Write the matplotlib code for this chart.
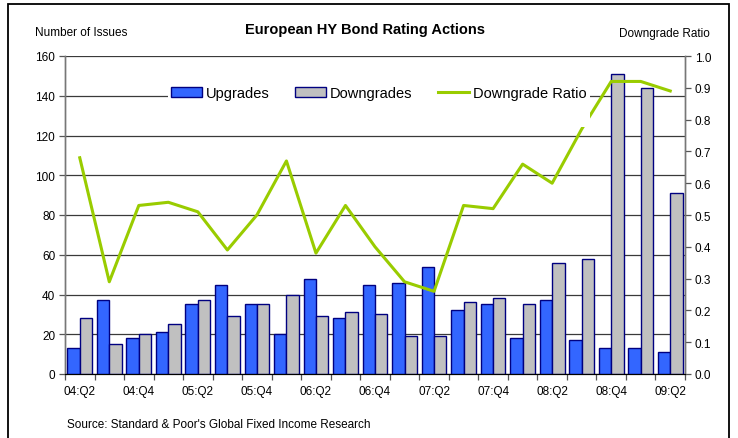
import matplotlib
matplotlib.use("Agg")
import matplotlib.pyplot as plt
import numpy as np
from matplotlib.patches import Rectangle

plt.rcParams['font.family'] = ['Liberation Sans', 'DejaVu Sans']

quarters = ["04:Q2", "04:Q3", "04:Q4", "05:Q1", "05:Q2", "05:Q3", "05:Q4",
            "06:Q1", "06:Q2", "06:Q3", "06:Q4", "07:Q1", "07:Q2", "07:Q3",
            "07:Q4", "08:Q1", "08:Q2", "08:Q3", "08:Q4", "09:Q1", "09:Q2"]
upgrades = [13, 37, 18, 21, 35, 45, 35, 20, 48, 28, 45, 46, 54, 32, 35, 18, 37, 17, 13, 13, 11]
downgrades = [28, 15, 20, 25, 37, 29, 35, 40, 29, 31, 30, 19, 19, 36, 38, 35, 56, 58, 151, 144, 91]
downgrade_ratio = [0.68, 0.29, 0.53, 0.54, 0.51, 0.39, 0.50, 0.67, 0.38, 0.53, 0.40,
                   0.29, 0.26, 0.53, 0.52, 0.66, 0.60, 0.77, 0.92, 0.92, 0.89]

fig = plt.figure(figsize=(7.38, 4.39), dpi=100)
ax = fig.add_axes([65/738, 1-375/439, 620/738, 318/439])
ax2 = ax.twinx()

x = np.arange(len(quarters))
w = 0.42
ax.bar(x - w/2, upgrades, width=w, color='#3366FF', edgecolor='#000080',
       linewidth=1.0, label='Upgrades', zorder=3)
ax.bar(x + w/2, downgrades, width=w, color='#C0C0C0', edgecolor='#000080',
       linewidth=1.0, label='Downgrades', zorder=3)
ax2.plot(x, downgrade_ratio, color='#99CC00', linewidth=2.2, label='Downgrade Ratio',
         zorder=3)

ax.set_xlim(-0.5, len(quarters) - 0.5)
ax.set_ylim(0, 160)
ax2.set_ylim(0, 1.0)
ax.set_yticks(np.arange(0, 161, 20))
ax2.set_yticks(np.arange(0, 1.01, 0.1))
ax2.set_yticklabels([f"{v:.1f}" for v in np.arange(0, 1.01, 0.1)])

ax.yaxis.grid(True, color='#3a3a3a', linewidth=0.9, zorder=0)
ax.set_axisbelow(True)

ax.set_xticks(x[::2])
ax.set_xticklabels(quarters[::2])
ax.set_xticks(np.arange(-0.5, len(quarters), 1.0), minor=True)
ax.tick_params(axis='x', which='major', length=0, pad=8, labelsize=8.5)
ax.tick_params(axis='x', which='minor', length=4, width=0.9, color='#555555', direction='out')
ax.tick_params(axis='y', length=4, width=0.9, color='#555555', labelsize=8.5, pad=3)
ax2.tick_params(axis='y', length=4, width=0.9, color='#555555', labelsize=8.5, pad=3)

for a in (ax, ax2):
    a.spines['top'].set_visible(False)
    a.spines['left'].set_color('#777777')
    a.spines['right'].set_color('#777777')
    a.spines['bottom'].set_color('#000000')
    a.spines['left'].set_linewidth(1.0)
    a.spines['right'].set_linewidth(1.0)

# white legend background area (covers gridline and part of the ratio line)
bg = Rectangle(((168-65)/620, (375-128)/318), (590-168)/620, (128-60)/318,
               transform=ax2.transAxes, facecolor='white', edgecolor='none', zorder=5)
ax2.add_patch(bg)

h1, l1 = ax.get_legend_handles_labels()
h2, l2 = ax2.get_legend_handles_labels()
leg = ax2.legend(h1 + h2, l1 + l2, loc='center', bbox_to_anchor=(0.506, 0.884),
                 ncol=3, frameon=False, fontsize=10.5, handlelength=2.1,
                 handletextpad=0.25, columnspacing=1.8, borderpad=0.3,
                 handleheight=0.7)
leg.set_zorder(10)

fig.text(0.495, 1 - 30/439, "European HY Bond Rating Actions", ha='center',
         va='center', fontsize=10.5, fontweight='bold')
fig.text(35/738, 1 - 33/439, "Number of Issues", ha='left', va='center', fontsize=8.5)
fig.text(710/738, 1 - 34/439, "Downgrade Ratio", ha='right', va='center', fontsize=8.5)
fig.text(67/738, 1 - 425/439, "Source: Standard & Poor's Global Fixed Income Research",
         ha='left', va='center', fontsize=8.5)

border = Rectangle((8/738, -0.2), 721/738, 1.2 - 5/439, transform=fig.transFigure,
                   fill=False, edgecolor='black', linewidth=1.3, clip_on=False)
fig.patches.append(border)

fig.savefig("out.png", dpi=100)
